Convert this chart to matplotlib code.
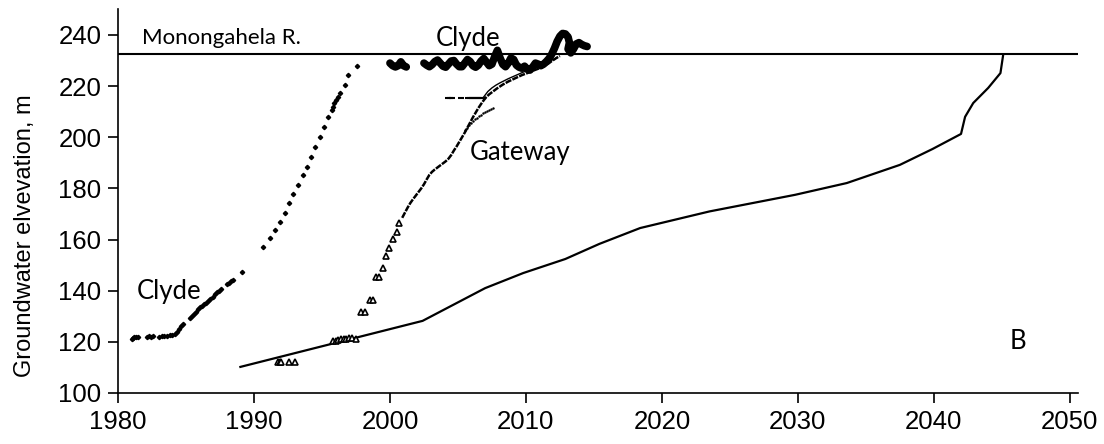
### GROUNDWATER ELEVATION CHART ###

import matplotlib as mtp
mtp.use('Agg')  # non-GUI backend
import matplotlib.pyplot as plt

# river level (Monongahela R.)
river_level = 232.5

# Clyde well, early record
clyde1_year = [1981.0, 1981.1, 1981.2, 1981.3, 1981.5, 1982.1, 1982.25, 1982.4, 1982.55,
               1983.0, 1983.2, 1983.4, 1983.6, 1983.8, 1984.0, 1984.2, 1984.35, 1984.5,
               1984.65, 1984.8, 1985.3, 1985.45, 1985.6, 1985.75, 1985.9, 1986.05, 1986.2,
               1986.35, 1986.5, 1986.65, 1986.8, 1986.95, 1987.1, 1987.25, 1987.4, 1987.55,
               1988.0, 1988.15, 1988.3, 1988.45, 1989.15,
               1990.69, 1991.18, 1991.54, 1991.91, 1992.28, 1992.6, 1992.89, 1993.26,
               1993.58, 1993.87, 1994.17, 1994.49, 1994.85, 1995.15, 1995.46, 1995.71,
               1995.81, 1995.92, 1996.03, 1996.18, 1996.29, 1996.69, 1996.94, 1997.55]
clyde1_elev = [121.3, 121.6, 121.8, 121.7, 122.0, 121.9, 122.1, 122.0, 122.2,
               122.0, 122.2, 122.4, 122.3, 122.6, 122.8, 123.2, 124.0, 125.0,
               126.0, 127.0, 129.2, 130.0, 130.9, 131.8, 132.8, 133.6, 134.2,
               134.8, 135.3, 136.0, 136.9, 137.7, 138.6, 139.3, 140.0, 140.6,
               142.5, 143.2, 143.7, 144.2, 147.3,
               157.2, 160.5, 163.7, 167.0, 170.3, 174.2, 177.8, 181.3,
               185.2, 188.5, 192.4, 196.3, 200.2, 204.1, 208.0, 210.7,
               212.0, 213.4, 214.6, 215.9, 217.2, 220.4, 224.4, 228.0]

# Clyde well, recent record (two stretches)
clyde2a_year = [2000.0, 2000.2, 2000.4, 2000.6, 2000.8, 2001.0, 2001.2]
clyde2a_elev = [229.0, 228.0, 227.5, 228.0, 229.5, 228.0, 227.5]
clyde2b_year = [2002.5, 2002.7, 2002.9, 2003.1, 2003.3, 2003.5, 2003.7, 2003.9, 2004.1,
                2004.3, 2004.5, 2004.7, 2004.9, 2005.1, 2005.3, 2005.5, 2005.7, 2005.9,
                2006.1, 2006.3, 2006.5, 2006.7, 2006.9, 2007.1, 2007.3, 2007.5, 2007.7,
                2007.9, 2008.1, 2008.3, 2008.5, 2008.7, 2008.9, 2009.1, 2009.3, 2009.5,
                2009.7, 2009.9, 2010.1, 2010.3, 2010.5, 2010.7, 2010.9, 2011.1, 2011.3,
                2011.5, 2011.7, 2011.9, 2012.1, 2012.3, 2012.5, 2012.7, 2012.9, 2013.1,
                2013.2, 2013.1, 2013.3, 2013.5, 2013.7, 2013.9, 2014.1, 2014.3, 2014.5]
clyde2b_elev = [229.0, 228.2, 227.6, 228.4, 229.6, 230.2, 229.0, 227.8, 227.4,
                228.6, 229.8, 230.0, 228.6, 227.6, 227.6, 229.0, 230.4, 229.6,
                228.0, 227.4, 228.2, 229.8, 230.8, 229.4, 228.0, 228.6, 231.5,
                234.0, 231.0, 228.5, 227.6, 229.0, 231.0, 230.4, 228.2, 227.4,
                227.0, 227.8, 226.6, 226.3, 227.5, 229.0, 228.6, 228.0, 228.6,
                229.6, 230.8, 232.5, 234.8, 237.5, 239.5, 240.6, 240.4, 239.2,
                237.0, 234.5, 233.0, 234.5, 236.5, 237.0, 236.3, 235.8, 235.5]

# Gateway well, manual readings (triangles)
gw_tri_year = [1991.8, 1991.9, 1992.0, 1992.6, 1993.0, 1995.8, 1996.0, 1996.2, 1996.4,
               1996.6, 1996.8, 1997.0, 1997.2, 1997.5, 1997.9, 1998.15, 1998.5, 1998.75,
               1999.0, 1999.2, 1999.5, 1999.7, 1999.9, 2000.2, 2000.5, 2000.7]
gw_tri_elev = [112.0, 112.0, 112.2, 112.3, 112.3, 120.2, 120.4, 120.7, 121.0,
               121.2, 121.3, 121.4, 121.5, 121.3, 131.6, 131.8, 136.3, 136.5,
               145.3, 145.5, 148.7, 153.4, 156.7, 160.2, 163.0, 166.5]

# Gateway well, logger record
gw_log_year = [2000.9, 2001.1, 2001.3, 2001.5, 2001.7, 2001.9, 2002.1, 2002.3, 2002.5,
               2002.7, 2002.9, 2003.1, 2003.3, 2003.5, 2003.7, 2003.9, 2004.1, 2004.3,
               2004.5, 2004.7, 2004.9, 2005.1, 2005.3, 2005.5, 2005.7, 2005.9, 2006.1,
               2006.3, 2006.5, 2006.7, 2006.9, 2007.1, 2007.3, 2007.5, 2007.7, 2007.9,
               2008.1, 2008.3, 2008.5, 2008.7, 2008.9, 2009.1, 2009.3, 2009.5, 2009.7,
               2009.9, 2010.1, 2010.3, 2010.5, 2010.7, 2010.9, 2011.1, 2011.3, 2011.5,
               2011.7, 2011.9, 2012.1, 2012.3, 2012.5]
gw_log_elev = [168.5, 170.5, 172.5, 174.3, 175.8, 177.2, 178.6, 180.0, 181.6,
               183.5, 185.3, 186.5, 187.4, 188.2, 189.0, 189.8, 190.6, 191.6,
               193.0, 194.8, 196.4, 198.2, 200.0, 201.8, 203.8, 205.8, 207.8,
               209.6, 211.4, 213.0, 214.5, 215.8, 216.8, 217.6, 218.4, 219.2,
               219.9, 220.6, 221.2, 221.8, 222.3, 222.8, 223.3, 223.8, 224.3,
               224.7, 225.1, 225.5, 226.0, 226.4, 226.8, 227.3, 227.8, 228.3,
               229.0, 229.8, 230.5, 231.2, 231.8]

# Gateway area, second logger (upper trace)
gw_up_year = [2006.9, 2007.2, 2007.5, 2007.8, 2008.1, 2008.4, 2008.7, 2009.0, 2009.3,
              2009.6, 2009.9, 2010.2, 2010.5, 2010.8, 2011.1, 2011.4, 2011.7, 2012.0, 2012.3]
gw_up_elev = [215.8, 217.9, 219.3, 220.4, 221.3, 222.1, 222.9, 223.6, 224.3,
              225.0, 225.7, 226.4, 227.1, 227.7, 228.3, 229.0, 229.7, 230.4, 231.1]

# Gateway area, thin dotted well
gw_thin_year = [2005.5, 2005.65, 2005.8, 2005.95, 2006.1, 2006.25, 2006.4, 2006.55,
                2006.7, 2006.85, 2007.0, 2007.15, 2007.3, 2007.45, 2007.6]
gw_thin_elev = [202.8, 203.8, 204.7, 205.5, 206.3, 207.0, 207.6, 208.2,
                208.8, 209.3, 209.8, 210.3, 210.7, 211.1, 211.5]

# short record at ~215 m
dash_year = [2004.3, 2004.45, 2004.6, 2005.2, 2005.75, 2005.9, 2006.05, 2006.2, 2006.35,
             2006.5, 2006.65, 2006.8]
dash_elev = [215.4, 215.4, 215.4, 215.4, 215.4, 215.4, 215.4, 215.4, 215.4,
             215.4, 215.4, 215.4]

# projected rebound, line B
b_year = [1989.0, 2002.4, 2007.0, 2009.8, 2012.9, 2015.4, 2018.4, 2023.5, 2029.8,
          2033.6, 2037.5, 2039.9, 2042.0, 2042.3, 2042.9, 2044.0, 2044.9, 2045.1]
b_elev = [110.2, 128.2, 141.0, 146.9, 152.4, 158.3, 164.5, 171.0, 177.5,
          182.1, 189.2, 195.4, 201.3, 208.0, 213.4, 219.3, 225.1, 232.2]

label_font = 'Liberation Sans'
note_font = 'Lato'

fig = plt.figure(figsize=(11.04, 4.44), dpi=100)
ax = fig.add_axes([0.1069, 0.1149, 0.8695, 0.8639])

# river line
ax.plot([1980, 2050.6], [river_level, river_level], color='black', linewidth=1.5)

# line B
ax.plot(b_year, b_elev, color='black', linewidth=1.6)

# Clyde
ax.plot(clyde1_year, clyde1_elev, linestyle='none', marker='D', markersize=2.2,
        color='black')
for yr, el in [(clyde2a_year, clyde2a_elev), (clyde2b_year, clyde2b_elev)]:
    ax.plot(yr, el, color='black', linewidth=5.5, solid_joinstyle='round',
            solid_capstyle='round')

# Gateway
ax.plot(gw_tri_year, gw_tri_elev, linestyle='none', marker='^', markersize=5,
        markerfacecolor='white', markeredgecolor='black', markeredgewidth=1.2)
ax.plot(gw_log_year, gw_log_elev, color='black', linewidth=1.8, linestyle=(0, (2.5, 0.5)))
ax.plot(gw_up_year, gw_up_elev, color='black', linewidth=1.0)
ax.plot(gw_thin_year, gw_thin_elev, linestyle='none', marker='.', markersize=1.5,
        color='black')
ax.plot(dash_year, dash_elev, linestyle='none', marker='_', markersize=5,
        markeredgewidth=1.5, color='black')

# labels in the plot
ax.text(1981.8, 238.8, 'Monongahela R.', fontsize=16, family=note_font, va='center')
ax.text(2003.4, 238.8, 'Clyde', fontsize=18.5, family=note_font, va='center')
ax.text(2005.9, 194.0, 'Gateway', fontsize=18.5, family=note_font, va='center')
ax.text(1981.4, 139.8, 'Clyde', fontsize=18.5, family=note_font, va='center')
ax.text(2045.6, 120.0, 'B', fontsize=18.5, family=note_font, va='center')

ax.set_xlim(1980, 2050.6)
ax.set_ylim(100, 250)
ax.set_xticks(range(1980, 2051, 10))
ax.set_yticks(range(100, 241, 20))
ax.set_ylabel('Groundwater elvevation, m', fontsize=17, family=label_font)
ax.yaxis.set_label_coords(-0.085, 0.41)
for lab in ax.get_xticklabels() + ax.get_yticklabels():
    lab.set_fontfamily(label_font)
    lab.set_fontsize(18.5)
ax.tick_params(direction='out', length=7, width=1.2, pad=5)

ax.spines['top'].set_visible(False)
ax.spines['right'].set_visible(False)
ax.spines['left'].set_linewidth(1.2)
ax.spines['bottom'].set_linewidth(1.2)

plt.savefig('out.png', dpi=100)
